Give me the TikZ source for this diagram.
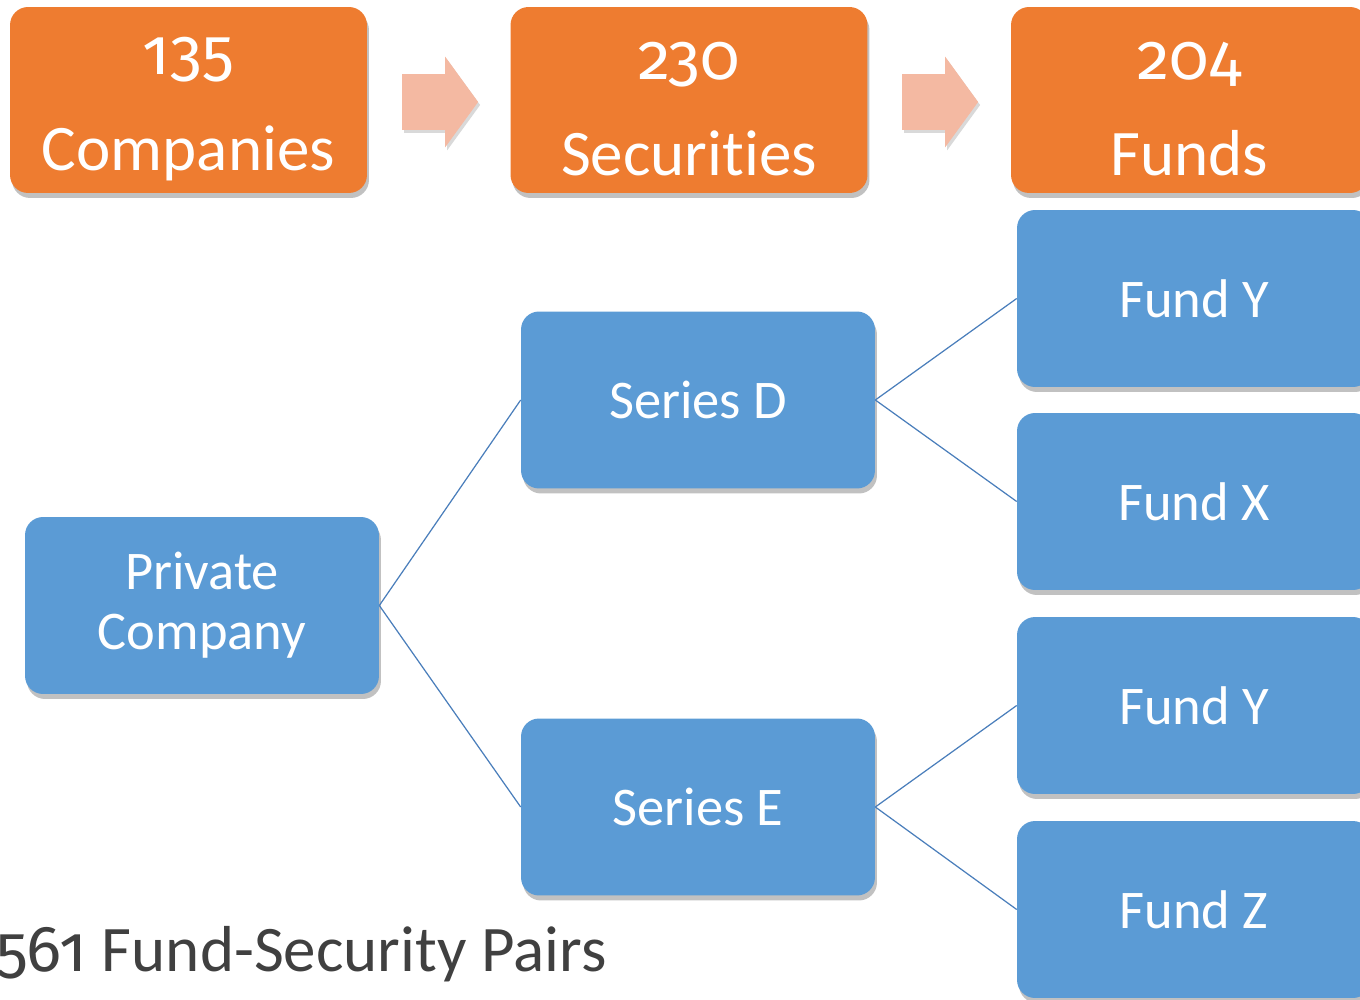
\documentclass[tikz,border=0pt]{standalone}
\usepackage{fontspec}
\setmainfont{Carlito}[Ligatures=NoCommon]
\newfontfamily\numfont{Fira Sans}[Numbers=OldStyle]
\usepackage{tikz}
\usetikzlibrary{shapes,arrows,shadows}
\definecolor{boxorange}{HTML}{EE7C30}
\definecolor{boxblue}{HTML}{5B9BD5}
\definecolor{arrowpink}{HTML}{F4B9A2}
\definecolor{linkblue}{HTML}{4A7EBB}
\definecolor{pairgray}{HTML}{404040}
\newcommand{\countlabel}[2]{\rule{0pt}{0.85em}{\numfont #1}\\#2}
\tikzset{
  boxshadow/.style={drop shadow={shadow xshift=0.04cm,shadow yshift=-0.1cm,opacity=0.35,fill=black!70}},
  countbox/.style={rectangle,rounded corners=0.36cm,fill=boxorange,text=white,boxshadow,
    minimum width=7.14cm,minimum height=3.72cm,align=center,font=\fontsize{37}{55}\selectfont},
  treebox/.style={rectangle,rounded corners=0.36cm,fill=boxblue,text=white,boxshadow,
    minimum width=7.08cm,minimum height=3.54cm,align=center,font=\fontsize{31}{34}\selectfont},
  flowarrow/.style={single arrow,fill=arrowpink,inner sep=0.55cm,minimum height=1.52cm,
    single arrow head extend=0.35cm,single arrow tip angle=108,
    drop shadow={shadow xshift=0.04cm,shadow yshift=-0.06cm,opacity=0.25,fill=black!60}},
  link/.style={draw=linkblue,line width=0.7pt}
}
\begin{document}
\begin{tikzpicture}[x=0.02cm,y=-0.02cm]
\useasboundingbox (0,0) rectangle (1360,1000);
\clip (0,0) rectangle (1360,1000);
\node[countbox] (comp) at (188.5,100) {\countlabel{135}{Companies}};
\node[countbox] (sec) at (689,100) {\countlabel{230}{Securities}};
\node[countbox] (funds) at (1189.5,100) {\countlabel{204}{Funds}};
\node[flowarrow] (arrA) at (430,102) {};
\node[flowarrow] (arrB) at (930,102) {};
\node[treebox] (priv) at (202,605.5) {Private\\Company};
\node[treebox] (serD) at (698,400) {Series D};
\node[treebox] (serE) at (698,807) {Series E};
\node[treebox] (fundY1) at (1194,298.5) {Fund Y};
\node[treebox] (fundX) at (1194,501.5) {Fund X};
\node[treebox] (fundY2) at (1194,705.5) {Fund Y};
\node[treebox] (fundZ) at (1194,909.5) {Fund Z};
\node[anchor=base west,inner sep=0,text=pairgray,font=\fontsize{37}{44}\selectfont] (pairs) at (-4,971) {{\numfont 561} Fund-Security Pairs};
\draw[link] (priv.east) -- (serD.west)
(priv.east) -- (serE.west)
(serD.east) -- (fundY1.west)
(serD.east) -- (fundX.west)
(serE.east) -- (fundY2.west)
(serE.east) -- (fundZ.west);
\end{tikzpicture}
\end{document}
